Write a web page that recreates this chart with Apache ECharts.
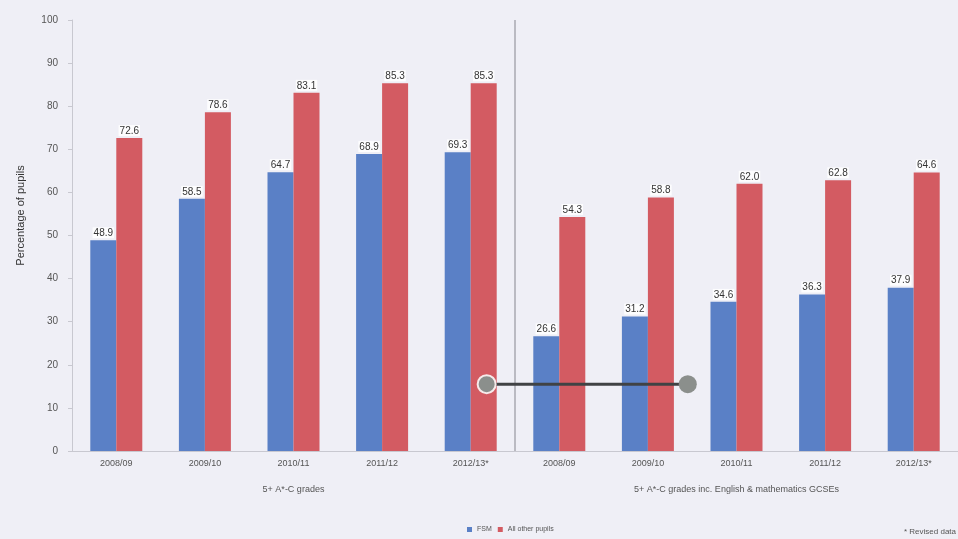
<!DOCTYPE html>
<html>
<head>
<meta charset="utf-8">
<script src="https://cdn.jsdelivr.net/npm/echarts@6/dist/echarts.min.js"></script>
<style>
  html, body { margin: 0; padding: 0; background: #efeff6; }
  #chart { width: 958px; height: 539px; }
</style>
</head>
<body>
<div id="chart"></div>
<script>
// Year categories, repeated for each measure group
const years = ['2008/09', '2009/10', '2010/11', '2011/12', '2012/13*'];
const groups = ['5+ A*-C grades', '5+ A*-C grades inc. English & mathematics GCSEs'];
const categories = years.concat(years);

// Percentage of pupils achieving each measure
const fsm = [48.9, 58.5, 64.7, 68.9, 69.3, 26.6, 31.2, 34.6, 36.3, 37.9];
const allOther = [72.6, 78.6, 83.1, 85.3, 85.3, 54.3, 58.8, 62.0, 62.8, 64.6];

// Connector annotation across the two groups (category position, percentage)
const connector = [[4.68, 15.5], [6.95, 15.5]];

const yTicks = { min: 0, max: 100, interval: 10 };

const chart = echarts.init(document.getElementById('chart'));

const labelStyle = {
  show: true,
  position: 'top',
  distance: 2,
  fontFamily: 'Liberation Sans',
  fontSize: 10,
  color: '#333',
  backgroundColor: 'rgba(255,255,255,0.85)',
  padding: [1, 1, 0, 1],
  formatter: p => p.value.toFixed(1)
};

chart.setOption({
  backgroundColor: '#efeff6',
  animation: false,
  textStyle: { fontFamily: 'Liberation Sans' },
  grid: { left: 72, right: -1, top: 20, bottom: 88 },
  legend: {
    bottom: 1,
    left: 462,
    itemWidth: 5,
    itemHeight: 5,
    itemGap: 6,
    icon: 'rect',
    textStyle: { fontSize: 7, color: '#555' },
    data: ['FSM', 'All other pupils']
  },
  graphic: [{
    type: 'text',
    right: 2,
    bottom: 3,
    style: { text: '* Revised data', fontSize: 8, fill: '#555', fontFamily: 'Liberation Sans' }
  }],
  xAxis: [
    {
      type: 'category',
      data: categories,
      axisLine: { lineStyle: { color: '#c8c8d0' } },
      axisTick: { length: 22, interval: 0, lineStyle: { color: '#d0d0d8' } },
      axisLabel: { margin: 8, fontSize: 9, color: '#555', interval: 0 }
    },
    {
      type: 'category',
      data: groups,
      position: 'bottom',
      axisLine: { show: false },
      axisTick: { length: 50, interval: 0, lineStyle: { color: '#aaaab2', width: 1.2 } },
      axisLabel: { margin: 34, fontSize: 9, color: '#555', interval: 0 },
      // only the divider between the two groups is drawn
      splitLine: { show: true, interval: 0, lineStyle: { color: ['transparent', '#a8a8b0', 'transparent'], width: 1.5 } }
    },
    {
      type: 'value',
      min: 0,
      max: 10,
      show: false
    }
  ],
  yAxis: {
    type: 'value',
    min: yTicks.min,
    max: yTicks.max,
    interval: yTicks.interval,
    name: 'Percentage of pupils',
    nameLocation: 'middle',
    nameGap: 46,
    nameTextStyle: { fontSize: 11, color: '#333', padding: [0, 0, 0, 40] },
    axisLine: { show: true, lineStyle: { color: '#c8c8d0' } },
    axisTick: { show: true, length: 4, lineStyle: { color: '#c8c8d0' } },
    axisLabel: { margin: 14, fontSize: 10, color: '#555' },
    splitLine: { show: false }
  },
  series: [
    {
      name: 'FSM',
      type: 'bar',
      xAxisIndex: 0,
      data: fsm,
      barWidth: 26,
      barGap: '0%',
      itemStyle: { color: '#5a80c6' },
      label: labelStyle
    },
    {
      name: 'All other pupils',
      type: 'bar',
      xAxisIndex: 0,
      data: allOther,
      barWidth: 26,
      barGap: '0%',
      itemStyle: { color: '#d35b62' },
      label: labelStyle
    },
    {
      name: 'connector',
      type: 'line',
      xAxisIndex: 2,
      data: connector.map((c, i) => ({
        value: c,
        itemStyle: i === 0 ? { borderColor: '#f6eaea', borderWidth: 2 } : { borderWidth: 0 }
      })),
      symbol: 'circle',
      symbolSize: 18,
      lineStyle: { color: '#404244', width: 3 },
      itemStyle: { color: '#8b8f8c' },
      z: 5,
      silent: true
    }
  ]
});
</script>
</body>
</html>
